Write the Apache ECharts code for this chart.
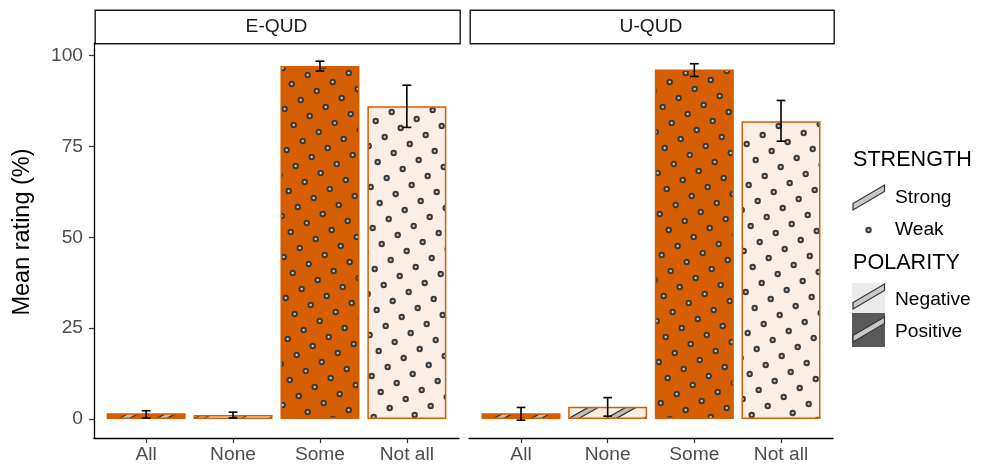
<!DOCTYPE html>
<html>
<head>
<meta charset="utf-8">
<script src="https://cdn.jsdelivr.net/npm/echarts@6/dist/echarts.min.js"></script>
<style>
html,body{margin:0;padding:0;background:#fff;}
#chart{width:988px;height:466px;}
</style>
</head>
<body>
<div id="chart"></div>
<script>
// ---- data ----
const categories = ['All', 'None', 'Some', 'Not all'];
const panels = ['E-QUD', 'U-QUD'];
const strength = ['Strong', 'Strong', 'Weak', 'Weak'];
const polarity = ['Positive', 'Negative', 'Positive', 'Negative'];
const equdMean = [1.6, 1.1, 97.1, 86.0];
const equdLow  = [0.3, 0.3, 95.7, 80.2];
const equdHigh = [2.3, 1.9, 98.4, 91.8];
const uqudMean = [1.6, 3.4, 96.1, 81.9];
const uqudLow  = [-0.3, 0.8, 94.2, 76.4];
const uqudHigh = [3.2, 5.9, 97.7, 87.6];
const yTicks = [0, 25, 50, 75, 100];

// ---- styles ----
const ORANGE = '#D55E00';
const LIGHT = '#FBEEE5';
const FONT = 'Liberation Sans, Arial, sans-serif';
const TICK_FS = 19.2;

// pattern tile: square lattice with vectors (16,-9) and (9,16) (spacing ~18.4, angle 30deg)
function makeTile(bg, kind) {
  const T = 337;
  const c = document.createElement('canvas');
  c.width = T; c.height = T;
  const g = c.getContext('2d');
  g.fillStyle = bg; g.fillRect(0, 0, T, T);
  const ox = -8.3, oy = 0;
  if (kind === 'Weak') {
    for (let a = -40; a <= 40; a++) {
      for (let b = -40; b <= 40; b++) {
        const x = 16 * a + 9 * b + ox, y = -9 * a + 16 * b + oy;
        if (x < -6 || x > T + 6 || y < -6 || y > T + 6) continue;
        g.beginPath(); g.arc(x, y, 3.2, 0, Math.PI * 2);
        g.fillStyle = '#3a3a3a'; g.fill();
        g.beginPath(); g.arc(x, y, 1.2, 0, Math.PI * 2);
        g.fillStyle = '#c4c4c4'; g.fill();
      }
    }
  } else {
    // stripes along lines 9x + 16y = 337k
    g.lineCap = 'butt';
    for (let k = -2; k <= 28; k++) {
      const x1 = -30, x2 = T + 30;
      const y1 = (337 * k - 9 * x1) / 16 + 4, y2 = (337 * k - 9 * x2) / 16 + 4;
      g.beginPath(); g.moveTo(x1, y1); g.lineTo(x2, y2);
      g.strokeStyle = '#333'; g.lineWidth = 6.2; g.stroke();
      g.beginPath(); g.moveTo(x1, y1); g.lineTo(x2, y2);
      g.strokeStyle = '#bdbdbd'; g.lineWidth = 3.6; g.stroke();
    }
  }
  return { image: c, repeat: 'repeat' };
}
const patterns = {};
['Positive', 'Negative'].forEach(p => ['Strong', 'Weak'].forEach(st => {
  patterns[p + st] = makeTile(p === 'Positive' ? ORANGE : LIGHT, st);
}));

function barData(means) {
  return means.map((v, i) => ({
    value: [i + 1, v],
    itemStyle: {
      color: patterns[polarity[i] + strength[i]],
      borderColor: ORANGE, borderWidth: 1.5
    }
  }));
}
function errData(lo, hi) {
  return lo.map((l, i) => [i + 1, l, hi[i]]);
}
function renderErr(params, api) {
  const x = api.value(0);
  const p1 = api.coord([x, api.value(1)]);
  const p2 = api.coord([x, api.value(2)]);
  const hw = 4.4;
  const st = { stroke: '#000', lineWidth: 1.6 };
  return { type: 'group', children: [
    { type: 'line', shape: { x1: p1[0], y1: p1[1], x2: p2[0], y2: p2[1] }, style: st },
    { type: 'line', shape: { x1: p1[0] - hw, y1: p1[1], x2: p1[0] + hw, y2: p1[1] }, style: st },
    { type: 'line', shape: { x1: p2[0] - hw, y1: p2[1], x2: p2[0] + hw, y2: p2[1] }, style: st }
  ]};
}

const gridTop = 43, gridH = 395;
const grids = [
  { left: 94, top: gridTop, width: 365, height: gridH },
  { left: 469, top: gridTop, width: 364, height: gridH }
];

const xAxes = grids.map((g, i) => ({
  type: 'value', gridIndex: i, min: 0.4, max: 4.6,
  splitLine: { show: false },
  axisLine: { show: true, onZero: false, lineStyle: { color: '#000', width: 1.3 } },
  axisTick: { show: true, length: 5, customValues: [1, 2, 3, 4], lineStyle: { color: '#333', width: 1.2 } },
  axisLabel: {
    customValues: [1, 2, 3, 4], margin: 7,
    formatter: v => categories[Math.round(v) - 1] || '',
    color: '#4D4D4D', fontSize: TICK_FS, fontFamily: FONT
  }
}));
const yAxes = grids.map((g, i) => ({
  type: 'value', gridIndex: i, min: -5.2, max: 103.4,
  splitLine: { show: false },
  axisLine: { show: i === 0, onZero: false, lineStyle: { color: '#000', width: 1.3 } },
  axisTick: { show: i === 0, length: 5, customValues: yTicks, lineStyle: { color: '#333', width: 1.2 } },
  axisLabel: {
    show: i === 0, customValues: yTicks, margin: 11,
    color: '#4D4D4D', fontSize: TICK_FS, fontFamily: FONT
  }
}));

const series = [
  { type: 'bar', xAxisIndex: 0, yAxisIndex: 0, barWidth: 79, data: barData(equdMean), silent: true, animation: false },
  { type: 'bar', xAxisIndex: 1, yAxisIndex: 1, barWidth: 79, data: barData(uqudMean), silent: true, animation: false },
  { type: 'custom', xAxisIndex: 0, yAxisIndex: 0, data: errData(equdLow, equdHigh), renderItem: renderErr, silent: true, animation: false, z: 5 },
  { type: 'custom', xAxisIndex: 1, yAxisIndex: 1, data: errData(uqudLow, uqudHigh), renderItem: renderErr, silent: true, animation: false, z: 5 }
];

// y-axis title
const graphics = [
  { type: 'text', x: 23, y: 232, rotation: Math.PI / 2,
    style: { text: 'Mean rating (%)', fill: '#000', font: '23.5px ' + FONT, textAlign: 'center', textVerticalAlign: 'middle' } }
];
// strip headers
grids.forEach((g, i) => {
  graphics.push({
    type: 'rect', left: g.left + 0.5, top: 9.5,
    shape: { width: g.width, height: 33.5 },
    style: { fill: '#fff', stroke: '#1a1a1a', lineWidth: 1.4 }
  });
  graphics.push({
    type: 'text', x: g.left + g.width / 2, y: 26.5,
    style: { text: panels[i], fill: '#1a1a1a', font: TICK_FS + 'px ' + FONT, textAlign: 'center', textVerticalAlign: 'middle' }
  });
});

// legend
function stripe(x0, yb) {
  return { type: 'polygon', shape: { points: [[x0, yb - 6.5], [x0, yb], [x0 + 31.5, yb - 18.5], [x0 + 31.5, yb - 25]] },
    style: { fill: '#c8c8c8', stroke: '#333', lineWidth: 1.2 } };
}
const legX = 853;
const LT = '21.6px ' + FONT, LL = TICK_FS + 'px ' + FONT;
graphics.push(
  { type: 'text', x: legX, y: 160, style: { text: 'STRENGTH', fill: '#000', font: LT, textVerticalAlign: 'middle' } },
  stripe(legX, 210),
  { type: 'text', x: 895, y: 198, style: { text: 'Strong', fill: '#000', font: LL, textVerticalAlign: 'middle' } },
  { type: 'circle', shape: { cx: 868.5, cy: 230, r: 3.2 }, style: { fill: '#3a3a3a' } },
  { type: 'circle', shape: { cx: 868.5, cy: 230, r: 1.2 }, style: { fill: '#c4c4c4' } },
  { type: 'text', x: 895, y: 230, style: { text: 'Weak', fill: '#000', font: LL, textVerticalAlign: 'middle' } },
  { type: 'text', x: legX, y: 263, style: { text: 'POLARITY', fill: '#000', font: LT, textVerticalAlign: 'middle' } },
  { type: 'rect', shape: { x: 852, y: 283, width: 33, height: 30 }, style: { fill: '#EBEBEB' } },
  stripe(legX, 309),
  { type: 'text', x: 895, y: 300, style: { text: 'Negative', fill: '#000', font: LL, textVerticalAlign: 'middle' } },
  { type: 'rect', shape: { x: 852, y: 313, width: 33, height: 34 }, style: { fill: '#595959' } },
  stripe(legX, 342),
  { type: 'text', x: 895, y: 332, style: { text: 'Positive', fill: '#000', font: LL, textVerticalAlign: 'middle' } }
);

const chart = echarts.init(document.getElementById('chart'), null, { renderer: 'canvas' });
chart.setOption({
  animation: false,
  backgroundColor: '#fff',
  textStyle: { fontFamily: FONT },
  grid: grids,
  xAxis: xAxes,
  yAxis: yAxes,
  series: series,
  graphic: graphics
});
</script>
</body>
</html>
